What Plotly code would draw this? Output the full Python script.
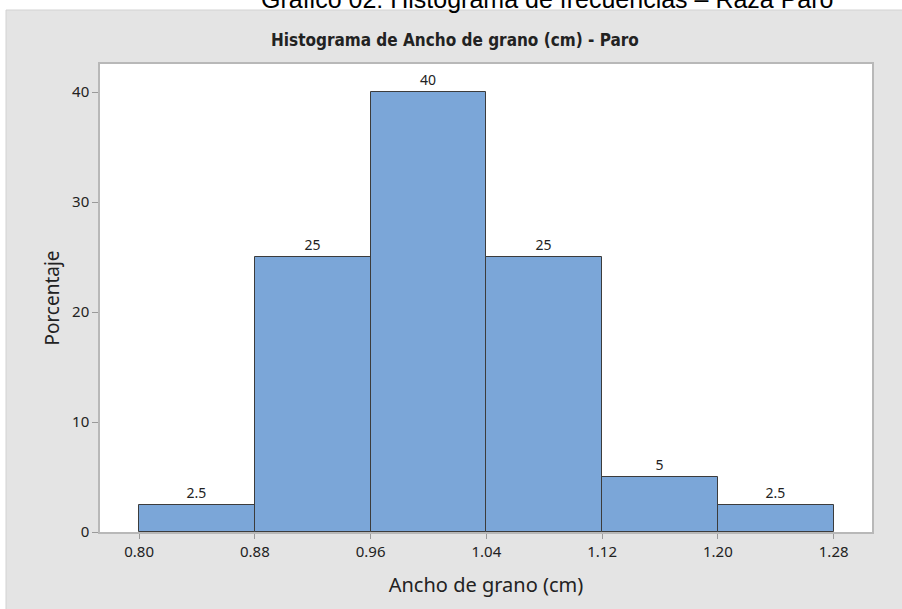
import plotly.graph_objects as go

# Data
bin_edges = [0.80, 0.88, 0.96, 1.04, 1.12, 1.20, 1.28]
percentages = [2.5, 25, 40, 25, 5, 2.5]
bar_labels = ["2.5", "25", "40", "25", "5", "2.5"]
x_tick_labels = ["0.80", "0.88", "0.96", "1.04", "1.12", "1.20", "1.28"]
y_ticks = [0, 10, 20, 30, 40]

centers = [(a + b) / 2 for a, b in zip(bin_edges[:-1], bin_edges[1:])]
widths = [b - a for a, b in zip(bin_edges[:-1], bin_edges[1:])]

W, H = 902, 609
L, R, T, B = 100, 30, 64, 77
pw, ph = W - L - R, H - T - B

def px_x(px):
    return (px - L) / pw

def px_y(py):
    return (H - B - py) / ph

FONT = "Noto Sans, DejaVu Sans"

fig = go.Figure()
fig.add_trace(go.Bar(
    x=centers, y=percentages, width=widths,
    marker=dict(color="#7ba6d8", line=dict(color="#3c3c3c", width=1)),
    text=bar_labels, textposition="outside", cliponaxis=False,
    textfont=dict(family=FONT, size=14, color="#222222"),
    hoverinfo="skip",
))

tick_font = dict(family=FONT, size=15, color="#222222")

fig.update_layout(
    width=W, height=H,
    margin=dict(l=L, r=R, t=T, b=B, pad=0),
    paper_bgcolor="white",
    plot_bgcolor="white",
    showlegend=False,
    bargap=0,
    xaxis=dict(
        range=[0.773, 1.3065], tickmode="array", tickvals=bin_edges, ticktext=x_tick_labels,
        showgrid=False, zeroline=False, showline=True, mirror=True,
        linecolor="#b8b8b8", linewidth=1.5, ticks="outside", ticklen=5, tickcolor="#9a9a9a",
        tickfont=tick_font,
        title=dict(text="Ancho de grano (cm)", font=dict(family=FONT, size=20, color="#222222"), standoff=18),
    ),
    yaxis=dict(
        range=[0, 42.55], tickmode="array", tickvals=y_ticks,
        showgrid=False, zeroline=False, showline=True, mirror=True,
        linecolor="#b8b8b8", linewidth=1.5, ticks="outside", ticklen=6, tickcolor="#9a9a9a",
        tickfont=tick_font,
        title=dict(text="Porcentaje", font=dict(family=FONT, size=19, color="#222222"), standoff=7),
    ),
    shapes=[
        dict(type="rect", xref="paper", yref="paper", layer="below",
             x0=px_x(6), x1=px_x(905), y0=px_y(612), y1=px_y(10),
             fillcolor="#e4e4e4", line=dict(color="#d2d2d2", width=1)),
        dict(type="rect", xref="paper", yref="paper", layer="below",
             x0=0, x1=1, y0=0, y1=1,
             fillcolor="white", line=dict(width=0)),
    ],
    annotations=[
        dict(text="<b>Histograma de Ancho de grano (cm) - Paro</b>", xref="paper", yref="paper",
             x=px_x(455), y=px_y(40), xanchor="center", yanchor="middle", showarrow=False,
             font=dict(family="DejaVu Sans Condensed, Liberation Sans", size=17, color="#222222")),
        dict(text="Gráfico 02: Histograma de frecuencias – Raza Paro", xref="paper", yref="paper",
             x=px_x(547), y=px_y(-1.5), xanchor="center", yanchor="middle", showarrow=False,
             font=dict(family="Liberation Sans, Arial", size=25, color="#000000")),
    ],
)

fig.write_html("out.html", config={"displayModeBar": False},
               post_script="document.body.style.margin='0px';document.body.style.overflow='hidden';")
